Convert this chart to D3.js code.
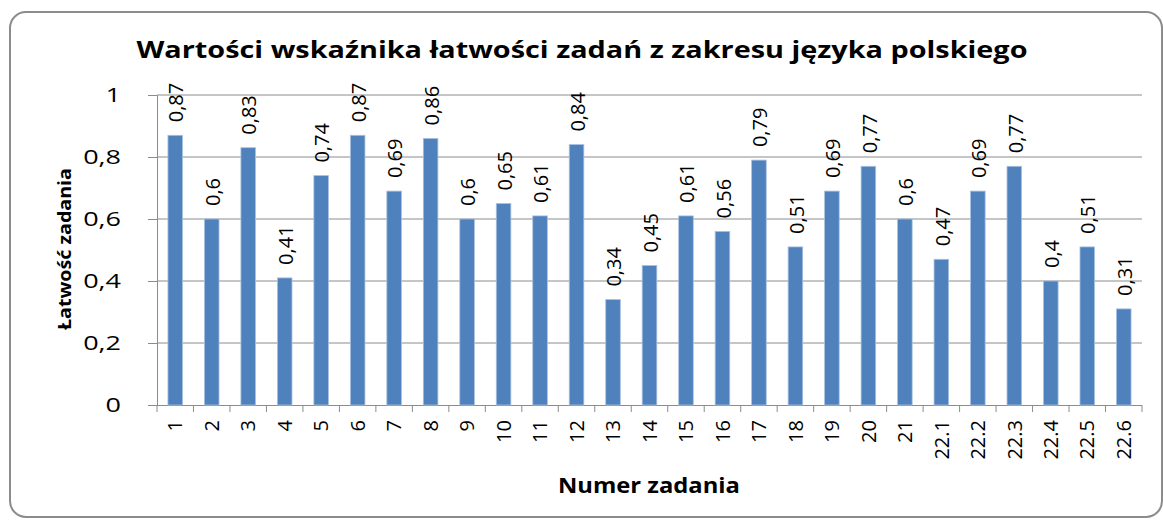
<!DOCTYPE html>
<html lang="pl">
<head>
<meta charset="utf-8">
<title>Wartości wskaźnika łatwości zadań</title>
<script src="https://d3js.org/d3.v7.min.js"></script>
<style>
  body { margin: 0; background: #fff; }
  text { font-family: "Open Sans", sans-serif; fill: #000; }
</style>
</head>
<body>
<div id="chart"></div>
<script>
var w = 1163;
var h = 520;

var zadania = ["1","2","3","4","5","6","7","8","9","10","11","12","13","14","15","16","17","18","19","20","21",
               "22.1","22.2","22.3","22.4","22.5","22.6"];
var latwosc = [0.87,0.6,0.83,0.41,0.74,0.87,0.69,0.86,0.6,0.65,0.61,0.84,0.34,0.45,0.61,0.56,0.79,0.51,0.69,0.77,0.6,
               0.47,0.69,0.77,0.4,0.51,0.31];
var yTicks = [0,0.2,0.4,0.6,0.8,1];

var plot = {left: 157, right: 1142, top: 95, bottom: 405};

var svg = d3.select("#chart").append("svg")
  .attr("width", w)
  .attr("height", h);

// the picture is a bit wider than normal text, so stretch horizontal labels
function stretch(sel, k){
  sel.each(function(){
    var len = this.getComputedTextLength();
    d3.select(this).attr("textLength", len * k).attr("lengthAdjust", "spacingAndGlyphs");
  });
}

// frame
svg.append("rect")
  .attr("x", 10).attr("y", 12)
  .attr("width", 1152).attr("height", 505)
  .attr("rx", 16).attr("ry", 16)
  .attr("fill", "#fff")
  .attr("stroke", "#8c8c8c")
  .attr("stroke-width", 2);

var x = d3.scaleBand()
  .domain(zadania)
  .range([plot.left, plot.right])
  .paddingInner(0.6)
  .paddingOuter(0.3);

var y = d3.scaleLinear()
  .domain([0, 1])
  .range([plot.bottom, plot.top]);

var fmt = function(v){ return String(v).replace(".", ","); };

// gridlines
svg.append("g")
  .selectAll("line")
  .data(yTicks.filter(function(d){ return d > 0; }))
  .enter().append("line")
  .attr("x1", plot.left).attr("x2", plot.right)
  .attr("y1", function(d){ return y(d); })
  .attr("y2", function(d){ return y(d); })
  .attr("stroke", "#8c8c8c")
  .attr("stroke-width", 1);

// y axis
var yAxis = svg.append("g")
  .attr("transform", "translate(" + plot.left + ",0)")
  .call(d3.axisLeft(y).tickValues(yTicks).tickFormat(fmt).tickSize(9).tickPadding(27));
yAxis.selectAll("path, line").attr("stroke", "#8c8c8c");
yAxis.selectAll("text").style("font-size", "20px").attr("fill", "#222")
  .call(stretch, 1.35);

// x axis
var xAxis = svg.append("g")
  .attr("transform", "translate(0," + plot.bottom + ")")
  .call(d3.axisBottom(x).tickSize(0).tickSizeOuter(0));
xAxis.select("path").attr("stroke", "#8c8c8c").attr("d", "M" + (plot.left - 9) + ",0.5H" + plot.right);
xAxis.selectAll(".tick text")
  .style("font-size", "20px")
  .attr("fill", "#222")
  .attr("transform", "rotate(-90)")
  .attr("text-anchor", "end")
  .attr("x", -15)
  .attr("y", 0)
  .attr("dy", "0.36em");

// category boundary ticks
svg.append("g")
  .selectAll("line")
  .data(d3.range(zadania.length + 1))
  .enter().append("line")
  .attr("x1", function(i){ return plot.left + i * (plot.right - plot.left) / zadania.length; })
  .attr("x2", function(i){ return plot.left + i * (plot.right - plot.left) / zadania.length; })
  .attr("y1", plot.bottom).attr("y2", plot.bottom + 7)
  .attr("stroke", "#8c8c8c");

// bars
svg.append("g")
  .selectAll("rect")
  .data(latwosc)
  .enter().append("rect")
  .attr("x", function(d, i){ return x(zadania[i]); })
  .attr("y", function(d){ return y(d); })
  .attr("width", x.bandwidth())
  .attr("height", function(d){ return plot.bottom - y(d); })
  .attr("fill", "#4f81bd")
  .attr("stroke", "#a9c1e0")
  .attr("stroke-width", 0.8);

// data labels
svg.append("g")
  .selectAll("text")
  .data(latwosc)
  .enter().append("text")
  .attr("transform", function(d, i){
    return "translate(" + (x(zadania[i]) + x.bandwidth() / 2 + 1) + "," + (y(d) - 13) + ") rotate(-90)";
  })
  .attr("dy", "0.36em")
  .style("font-size", "20px")
  .text(fmt);

// title
svg.append("text")
  .attr("x", 582).attr("y", 58)
  .attr("text-anchor", "middle")
  .style("font-size", "23px")
  .style("font-weight", "bold")
  .attr("textLength", 891)
  .attr("lengthAdjust", "spacingAndGlyphs")
  .text("Wartości wskaźnika łatwości zadań z zakresu języka polskiego");

// axis titles
svg.append("text")
  .attr("transform", "translate(65,249) rotate(-90)")
  .attr("text-anchor", "middle")
  .attr("dy", "0.36em")
  .style("font-size", "18px")
  .style("font-weight", "bold")
  .attr("textLength", 162)
  .attr("lengthAdjust", "spacingAndGlyphs")
  .text("Łatwość zadania");

svg.append("text")
  .attr("x", 649).attr("y", 493)
  .attr("text-anchor", "middle")
  .style("font-size", "21px")
  .style("font-weight", "bold")
  .attr("textLength", 182)
  .attr("lengthAdjust", "spacingAndGlyphs")
  .text("Numer zadania");
</script>
</body>
</html>
